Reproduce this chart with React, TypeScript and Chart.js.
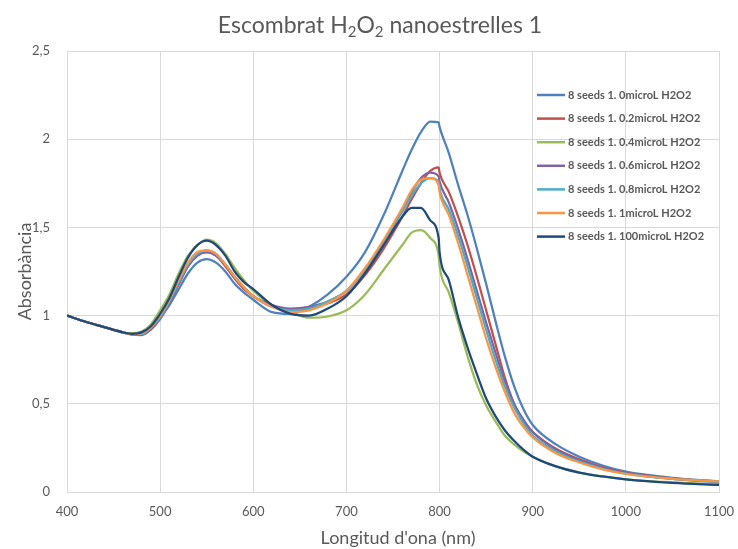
import React, { useEffect, useRef } from "react";
import { Chart, registerables } from "chart.js";

Chart.register(...registerables);

const wavelengths = [400, 420, 440, 460, 470, 480, 490, 500, 510, 520, 530, 540, 550, 560, 570, 580, 590, 600, 620, 640, 660, 680, 700, 720, 740, 760, 770, 780, 790, 799, 800, 810, 820, 830, 840, 850, 860, 870, 880, 890, 900, 925, 950, 975, 1000, 1050, 1100];

const seriesNames = [
  "8 seeds 1. 0microL H2O2",
  "8 seeds 1. 0.2microL H2O2",
  "8 seeds 1. 0.4microL H2O2",
  "8 seeds 1. 0.6microL H2O2",
  "8 seeds 1. 0.8microL H2O2",
  "8 seeds 1. 1microL H2O2",
  "8 seeds 1. 100microL H2O2",
];

const seriesColors = ["#4F81BD", "#C0504D", "#9BBB59", "#8064A2", "#4BACC6", "#F79646", "#1F497D"];

const s0 = [1.0, 0.965, 0.935, 0.905, 0.895, 0.9, 0.93, 0.99, 1.06, 1.15, 1.24, 1.3, 1.32, 1.3, 1.25, 1.18, 1.13, 1.09, 1.02, 1.01, 1.05, 1.12, 1.22, 1.36, 1.57, 1.82, 1.94, 2.04, 2.1, 2.095, 2.07, 1.92, 1.74, 1.57, 1.38, 1.18, 0.97, 0.77, 0.6, 0.47, 0.38, 0.27, 0.2, 0.15, 0.115, 0.08, 0.06];
const s02 = [1.0, 0.965, 0.935, 0.905, 0.895, 0.895, 0.925, 0.99, 1.08, 1.18, 1.28, 1.34, 1.36, 1.34, 1.28, 1.21, 1.15, 1.11, 1.05, 1.03, 1.04, 1.07, 1.12, 1.23, 1.38, 1.56, 1.66, 1.75, 1.82, 1.84, 1.81, 1.7, 1.56, 1.4, 1.22, 1.03, 0.84, 0.65, 0.5, 0.4, 0.34, 0.245, 0.185, 0.14, 0.11, 0.077, 0.058];
const s04 = [1.0, 0.965, 0.935, 0.905, 0.9, 0.91, 0.95, 1.03, 1.12, 1.24, 1.34, 1.4, 1.43, 1.41, 1.35, 1.27, 1.2, 1.14, 1.06, 1.02, 0.988, 0.995, 1.03, 1.12, 1.26, 1.4, 1.47, 1.485, 1.44, 1.34, 1.28, 1.13, 0.96, 0.77, 0.61, 0.49, 0.4, 0.32, 0.27, 0.23, 0.2, 0.145, 0.11, 0.088, 0.072, 0.055, 0.045];
const s06 = [1.0, 0.965, 0.935, 0.905, 0.892, 0.89, 0.92, 0.98, 1.07, 1.18, 1.28, 1.34, 1.36, 1.34, 1.29, 1.22, 1.16, 1.11, 1.06, 1.04, 1.05, 1.08, 1.14, 1.26, 1.42, 1.6, 1.7, 1.78, 1.81, 1.79, 1.76, 1.64, 1.49, 1.32, 1.14, 0.96, 0.79, 0.63, 0.5, 0.41, 0.34, 0.24, 0.18, 0.138, 0.107, 0.075, 0.056];
const s08 = [1.0, 0.965, 0.935, 0.905, 0.895, 0.895, 0.93, 0.99, 1.08, 1.19, 1.29, 1.35, 1.37, 1.35, 1.29, 1.22, 1.16, 1.11, 1.05, 1.03, 1.04, 1.08, 1.14, 1.26, 1.42, 1.59, 1.68, 1.75, 1.78, 1.76, 1.72, 1.6, 1.45, 1.28, 1.1, 0.92, 0.75, 0.6, 0.48, 0.39, 0.32, 0.23, 0.172, 0.132, 0.104, 0.074, 0.058];
const s1 = [1.0, 0.965, 0.935, 0.905, 0.895, 0.9, 0.935, 1.0, 1.09, 1.2, 1.3, 1.36, 1.37, 1.35, 1.29, 1.22, 1.16, 1.11, 1.05, 1.02, 1.03, 1.07, 1.14, 1.27, 1.43, 1.61, 1.71, 1.77, 1.78, 1.74, 1.7, 1.57, 1.41, 1.23, 1.05, 0.87, 0.71, 0.57, 0.45, 0.37, 0.31, 0.22, 0.167, 0.128, 0.102, 0.075, 0.06];
const s100 = [1.0, 0.965, 0.935, 0.905, 0.897, 0.905, 0.94, 1.01, 1.1, 1.22, 1.33, 1.4, 1.425, 1.4, 1.34, 1.25, 1.19, 1.15, 1.06, 1.01, 1.0, 1.04, 1.11, 1.24, 1.4, 1.56, 1.61, 1.61, 1.54, 1.44, 1.36, 1.2, 0.99, 0.82, 0.67, 0.53, 0.43, 0.35, 0.29, 0.24, 0.2, 0.145, 0.11, 0.088, 0.072, 0.052, 0.04];

const seriesValues = [s0, s02, s04, s06, s08, s1, s100];

const xMin = 400;
const xMax = 1100;
const xStep = 100;
const yMin = 0;
const yMax = 2.5;
const yStep = 0.5;

const titleParts: { t: string; sub?: boolean }[] = [
  { t: "Escombrat H" },
  { t: "2", sub: true },
  { t: "O" },
  { t: "2", sub: true },
  { t: " nanoestrelles 1" },
];
const yTitle = "Absorbància";
const xTitle = "Longitud d'ona (nm)";

const FONT = "Lato, 'Open Sans', sans-serif";
const TEXT = "#595959";

const overlayPlugin = {
  id: "overlay",
  afterDraw(chart: any) {
    const ctx = chart.ctx as CanvasRenderingContext2D;
    const area = chart.chartArea;
    ctx.save();
    ctx.fillStyle = TEXT;
    ctx.textBaseline = "alphabetic";

    // title with subscripts
    const big = `23px ${FONT}`;
    const small = `15px ${FONT}`;
    let total = 0;
    for (const p of titleParts) {
      ctx.font = p.sub ? small : big;
      total += ctx.measureText(p.t).width;
    }
    let x = 380 - total / 2;
    ctx.textAlign = "left";
    for (const p of titleParts) {
      ctx.font = p.sub ? small : big;
      ctx.fillText(p.t, x, p.sub ? 37 : 33);
      x += ctx.measureText(p.t).width;
    }

    // axis titles
    ctx.font = `18px ${FONT}`;
    ctx.textAlign = "center";
    ctx.textBaseline = "middle";
    ctx.fillText(xTitle, (area.left + area.right) / 2 + 5, 538);
    ctx.save();
    ctx.translate(25, (area.top + area.bottom) / 2);
    ctx.rotate(-Math.PI / 2);
    ctx.fillText(yTitle, 0, 0);
    ctx.restore();

    // legend
    ctx.font = `bold 11px ${FONT}`;
    ctx.textAlign = "left";
    ctx.textBaseline = "middle";
    const lx = 537;
    const ly = 95;
    const dy = 23.6;
    seriesNames.forEach((name, i) => {
      const yy = ly + i * dy;
      ctx.strokeStyle = seriesColors[i];
      ctx.lineWidth = 2.5;
      ctx.beginPath();
      ctx.moveTo(lx, yy);
      ctx.lineTo(lx + 28, yy);
      ctx.stroke();
      ctx.fillStyle = TEXT;
      ctx.fillText(name, lx + 31, yy);
    });
    ctx.restore();
  },
};

export default function App() {
  const ref = useRef<HTMLCanvasElement | null>(null);
  useEffect(() => {
    if (!ref.current) return;
    const chart = new Chart(ref.current, {
      type: "line",
      data: {
        datasets: seriesNames.map((name, i) => ({
          label: name,
          data: wavelengths.map((w, j) => ({ x: w, y: seriesValues[i][j] })),
          borderColor: seriesColors[i],
          backgroundColor: seriesColors[i],
          borderWidth: 2.25,
          pointRadius: 0,
          cubicInterpolationMode: "monotone" as const,
          fill: false,
          order: seriesNames.length - i,
        })),
      },
      options: {
        responsive: false,
        animation: false,
        devicePixelRatio: 1,
        layout: { padding: { top: 51, right: 19, bottom: 0, left: 0 } },
        plugins: {
          legend: { display: false },
          title: { display: false },
          tooltip: { enabled: false },
        },
        scales: {
          x: {
            type: "linear",
            min: xMin,
            max: xMax,
            ticks: {
              stepSize: xStep,
              color: TEXT,
              font: { family: FONT, size: 13 },
              padding: 12,
              maxRotation: 0,
              callback: (v: any) => String(v),
            },
            grid: { color: "#D9D9D9", drawTicks: false },
            border: { color: "#D9D9D9" },
            afterFit: (s: any) => {
              s.height = 57;
              s.paddingLeft = 0;
              s.paddingRight = 0;
            },
          },
          y: {
            min: yMin,
            max: yMax,
            ticks: {
              stepSize: yStep,
              color: TEXT,
              font: { family: FONT, size: 13 },
              padding: 17,
              callback: (v: any) => String(v).replace(".", ","),
            },
            grid: { color: "#D9D9D9", drawTicks: false },
            border: { color: "#D9D9D9" },
            afterFit: (s: any) => {
              s.width = 67;
              s.paddingTop = 0;
              s.paddingBottom = 0;
            },
          },
        },
      },
      plugins: [overlayPlugin],
    });
    return () => chart.destroy();
  }, []);
  return (
    <div style={{ position: "absolute", left: 0, top: 0, width: 738, height: 549, background: "#fff" }}>
      <canvas ref={ref} width={738} height={549} />
    </div>
  );
}
